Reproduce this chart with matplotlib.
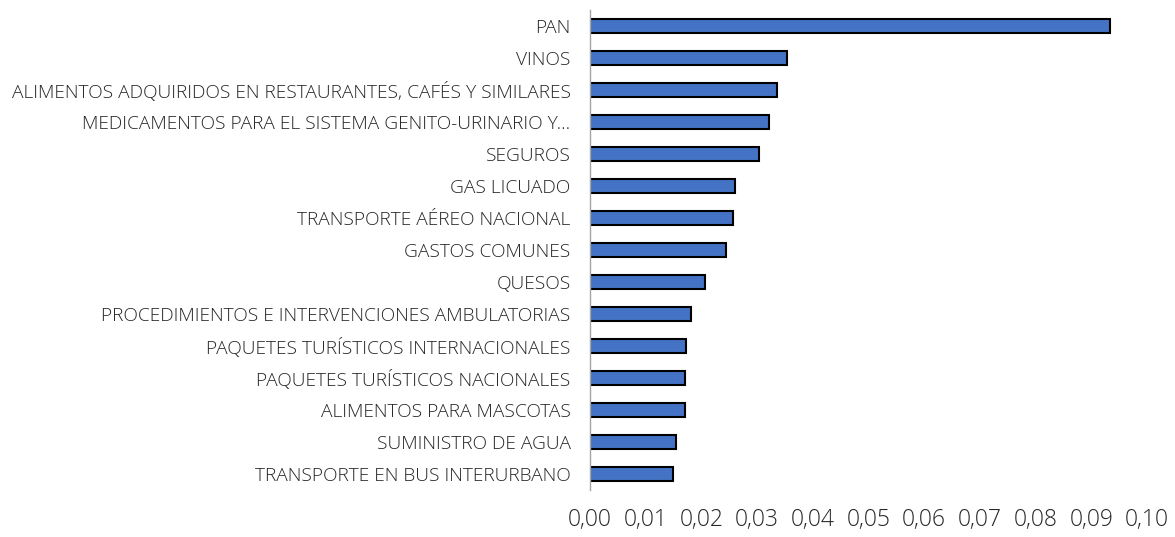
import matplotlib.pyplot as plt
from matplotlib.ticker import FuncFormatter

# categorias (de abajo hacia arriba) y valores
categorias = ["TRANSPORTE EN BUS INTERURBANO", "SUMINISTRO DE AGUA",
              "ALIMENTOS PARA MASCOTAS", "PAQUETES TURÍSTICOS NACIONALES",
              "PAQUETES TURÍSTICOS INTERNACIONALES",
              "PROCEDIMIENTOS E INTERVENCIONES AMBULATORIAS", "QUESOS",
              "GASTOS COMUNES", "TRANSPORTE AÉREO NACIONAL", "GAS LICUADO",
              "SEGUROS", "MEDICAMENTOS PARA EL SISTEMA GENITO-URINARIO Y...",
              "ALIMENTOS ADQUIRIDOS EN RESTAURANTES, CAFÉS Y SIMILARES",
              "VINOS", "PAN"]
valores = [0.0149, 0.0154, 0.0170, 0.0171, 0.0173, 0.0182, 0.0206, 0.0245,
           0.0256, 0.0261, 0.0304, 0.0322, 0.0335, 0.0353, 0.0933]
xticks = [0.00, 0.01, 0.02, 0.03, 0.04, 0.05, 0.06, 0.07, 0.08, 0.09, 0.10]

plt.rcParams['font.family'] = ['Open Sans', 'DejaVu Sans']

fig = plt.figure(figsize=(11.75, 5.37), dpi=100)
ax = fig.add_axes([590/1175, 47/537, 557/1175, 480/537])

ax.barh(range(len(categorias)), valores, height=0.45, color="#4472C4",
        edgecolor="black", linewidth=1.5)

ax.set_xlim(0, 0.10)
ax.set_ylim(-0.5, 14.5)
ax.set_yticks(range(len(categorias)))
ax.set_yticklabels(categorias, fontsize=13.8, fontweight="light", color="#262626")
ax.set_xticks(xticks)
ax.xaxis.set_major_formatter(FuncFormatter(lambda v, p: f"{v:.2f}".replace(".", ",")))
ax.tick_params(axis="x", length=0, pad=13, labelsize=16.5, labelcolor="#262626")
ax.tick_params(axis="y", length=0, pad=14)
for t in ax.get_xticklabels():
    t.set_fontweight("light")

for s in ["top", "right", "bottom"]:
    ax.spines[s].set_visible(False)
ax.spines["left"].set_color("#A6A6A6")
ax.spines["left"].set_linewidth(1)

fig.savefig("out.png", dpi=100)
